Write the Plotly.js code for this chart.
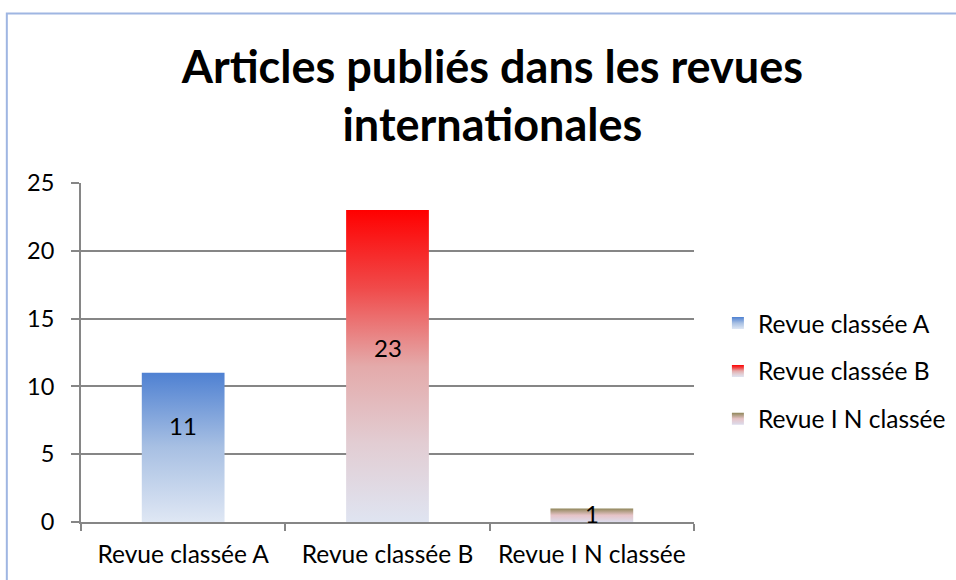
<!DOCTYPE html>
<html>
<head>
<meta charset="utf-8">
<script src="https://cdn.plot.ly/plotly-3.0.1.min.js"></script>
<style>
html,body{margin:0;padding:0;background:#fff;}
#chart{width:956px;height:580px;}
</style>
</head>
<body>
<div id="chart"></div>
<script>
const categories = ["Revue classée A", "Revue classée B", "Revue I N classée"];
const seriesNames = ["Revue classée A", "Revue classée B", "Revue I N classée"];
const values = [11, 23, 1];
const yTicks = [0, 5, 10, 15, 20, 25];
const titleText = "Articles publiés dans les revues<br>internationales";

const gradients = [
  [[0, "#4f81d2"], [0.5, "#a8c0e3"], [1, "#dfe7f4"]],
  [[0, "#ff0000"], [0.25, "#f04a4a"], [0.5, "#e4aaaa"], [0.75, "#e2cdd3"], [1, "#dfe4f1"]],
  [[0, "#8f865a"], [0.5, "#e6c3c7"], [1, "#dcdcec"]]
];
const baseColors = ["#4f81bd", "#ff0000", "#948a54"];
const labelShift = [22, 19, 2];

const FONT = "Lato, 'Open Sans', sans-serif";

const traces = categories.map((c, i) => ({
  type: "bar",
  name: seriesNames[i],
  x: [c],
  y: [values[i]],
  marker: {color: baseColors[i], line: {width: 0}},
  legendgroup: "g" + i,
  hoverinfo: "none"
}));

const annotations = categories.map((c, i) => ({
  x: c, y: values[i] / 2, xref: "x", yref: "y",
  text: String(values[i]), showarrow: false,
  yshift: labelShift[i],
  font: {family: FONT, size: 24, color: "#000"}
}));

const layout = {
  width: 956, height: 580,
  margin: {l: 81, r: 262, t: 183, b: 58, autoexpand: false},
  paper_bgcolor: "#fff", plot_bgcolor: "#fff",
  font: {family: FONT, size: 24, color: "#000"},
  title: {
    text: titleText,
    font: {family: FONT, size: 45, color: "#000", weight: "bold"},
    xref: "container", x: 0.515, xanchor: "center",
    yref: "container", y: 0.857, yanchor: "top"
  },
  barmode: "overlay",
  bargap: 0.595,
  xaxis: {
    type: "category",
    automargin: false,
    showgrid: false,
    showline: true, linecolor: "#868686", linewidth: 2,
    ticks: "outside", tickson: "boundaries", ticklen: 7, tickwidth: 2, tickcolor: "#868686",
    tickfont: {family: FONT, size: 24.5, color: "#000"},
    ticklabelstandoff: 10,
    fixedrange: true
  },
  yaxis: {
    range: [0, 25],
    automargin: false,
    tickvals: yTicks,
    showgrid: true, gridcolor: "#868686", gridwidth: 2,
    showline: true, linecolor: "#868686", linewidth: 2,
    ticks: "outside", ticklen: 8, tickwidth: 2, tickcolor: "#868686",
    tickfont: {family: FONT, size: 23.5, color: "#000"},
    ticklabelstandoff: 12,
    zeroline: false,
    fixedrange: true
  },
  showlegend: true,
  legend: {
    x: 1.039, xanchor: "left", y: 0.445, yanchor: "middle",
    font: {family: FONT, size: 24.5, color: "#000"},
    tracegroupgap: 13, itemwidth: 30,
    bgcolor: "rgba(0,0,0,0)"
  },
  annotations: annotations,
  shapes: [{
    type: "path", xref: "paper", yref: "paper",
    path: "M -0.121 -0.3 L -0.121 1.5 L 1.6 1.5",
    line: {color: "#9fb6e2", width: 2}
  }]
};

const gd = document.getElementById("chart");

function applyGradients() {
  const svg = gd.querySelector("svg.main-svg");
  if (!svg) return;
  let defs = svg.querySelector("defs");
  if (!defs) { defs = document.createElementNS("http://www.w3.org/2000/svg", "defs"); svg.insertBefore(defs, svg.firstChild); }
  gradients.forEach((stops, i) => {
    const id = "barGrad" + i;
    if (!defs.querySelector("#" + id)) {
      const lg = document.createElementNS("http://www.w3.org/2000/svg", "linearGradient");
      lg.setAttribute("id", id);
      lg.setAttribute("x1", "0"); lg.setAttribute("y1", "0");
      lg.setAttribute("x2", "0"); lg.setAttribute("y2", "1");
      stops.forEach(s => {
        const st = document.createElementNS("http://www.w3.org/2000/svg", "stop");
        st.setAttribute("offset", s[0]);
        st.setAttribute("stop-color", s[1]);
        lg.appendChild(st);
      });
      defs.appendChild(lg);
    }
  });
  gd.querySelectorAll(".barlayer .trace.bars").forEach((t, i) => {
    t.querySelectorAll(".point path").forEach(p => { p.style.fill = "url(#barGrad" + i + ")"; });
  });
  gd.querySelectorAll(".legend .traces").forEach((t, i) => {
    t.querySelectorAll(".legendpoints path").forEach(p => { p.style.fill = "url(#barGrad" + i + ")"; p.style.stroke = "none"; });
  });
}

Plotly.newPlot(gd, traces, layout, {staticPlot: true, displayModeBar: false}).then(() => {
  applyGradients();
  gd.on("plotly_afterplot", applyGradients);
});
</script>
</body>
</html>
